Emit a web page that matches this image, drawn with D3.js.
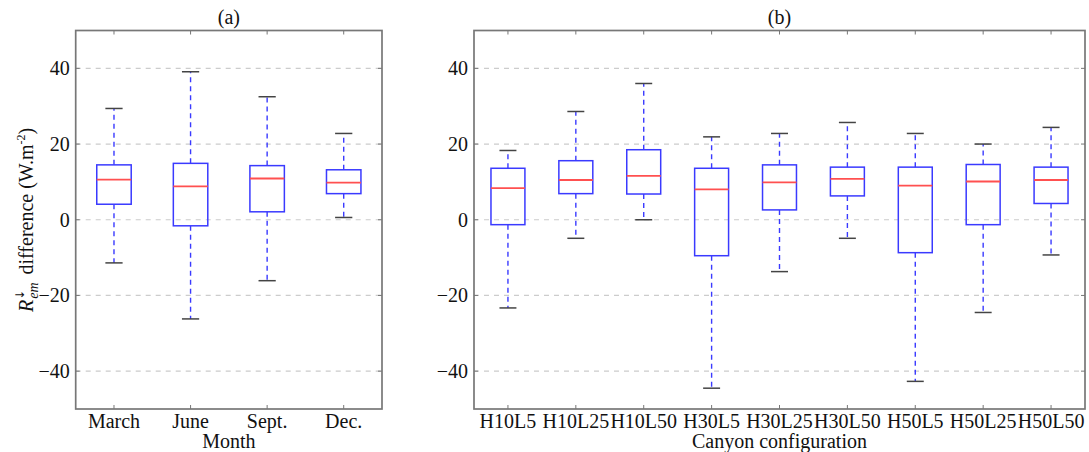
<!DOCTYPE html>
<html>
<head>
<meta charset="utf-8">
<script src="https://cdn.jsdelivr.net/npm/d3@7"></script>
<style>
  body { margin: 0; background: #fff; }
  svg text { font-family: "Liberation Serif", "Times New Roman", serif; fill: #111; }
</style>
</head>
<body>
<svg id="chart" width="1089" height="452"></svg>
<script>
// panel (a): month
const months = ["March", "June", "Sept.", "Dec."];
const monthLow = [-11.4, -26.2, -16.1, 0.6];
const monthQ1 = [4.1, -1.6, 2.1, 6.9];
const monthMed = [10.6, 8.8, 10.9, 9.8];
const monthQ3 = [14.5, 14.9, 14.3, 13.2];
const monthHigh = [29.4, 39.1, 32.5, 22.8];

// panel (b): canyon configuration
const configs = ["H10L5", "H10L25", "H10L50", "H30L5", "H30L25", "H30L50", "H50L5", "H50L25", "H50L50"];
const configLow = [-23.3, -4.9, 0.0, -44.5, -13.7, -4.9, -42.7, -24.5, -9.3];
const configQ1 = [-1.3, 6.9, 6.8, -9.5, 2.6, 6.3, -8.7, -1.3, 4.3];
const configMed = [8.35, 10.5, 11.6, 8.0, 9.9, 10.8, 9.0, 10.1, 10.5];
const configQ3 = [13.6, 15.6, 18.5, 13.6, 14.5, 13.9, 13.9, 14.6, 13.9];
const configHigh = [18.3, 28.6, 36.0, 21.9, 22.8, 25.7, 22.8, 20.0, 24.4];

const yTicks = [-40, -20, 0, 20, 40];

const svg = d3.select("#chart");
const plotTop = 30.5, plotBottom = 409;
const fs = 20;

function panel(left, right, cats, low, q1, med, q3, high, boxW, title, xTitle) {
    const g = svg.append("g");
    const x = d3.scaleLinear().domain([0.5, cats.length + 0.5]).range([left, right]);
    const y = d3.scaleLinear().domain([-50, 50]).range([plotBottom, plotTop]);

    // grid
    g.selectAll("line.grid").data(yTicks).enter().append("line")
        .attr("x1", left).attr("x2", right)
        .attr("y1", d => y(d)).attr("y2", d => y(d))
        .attr("stroke", "#cccccc").attr("stroke-width", 1.2)
        .attr("stroke-dasharray", "5,5");

    const data = cats.map((c, i) => ({ c: c, pos: i + 1, low: low[i], q1: q1[i], med: med[i], q3: q3[i], high: high[i] }));
    const half = (x(1 + boxW / 2) - x(1));
    const capHalf = half / 2;

    const b = g.selectAll("g.box").data(data).enter().append("g");
    // whiskers
    b.append("line")
        .attr("x1", d => x(d.pos)).attr("x2", d => x(d.pos))
        .attr("y1", d => y(d.q3)).attr("y2", d => y(d.high))
        .attr("stroke", "#3a3aff").attr("stroke-width", 1.4).attr("stroke-dasharray", "5,4");
    b.append("line")
        .attr("x1", d => x(d.pos)).attr("x2", d => x(d.pos))
        .attr("y1", d => y(d.q1)).attr("y2", d => y(d.low))
        .attr("stroke", "#3a3aff").attr("stroke-width", 1.4).attr("stroke-dasharray", "5,4");
    // caps
    ["low", "high"].forEach(k => {
        b.append("line")
            .attr("x1", d => x(d.pos) - capHalf).attr("x2", d => x(d.pos) + capHalf)
            .attr("y1", d => y(d[k])).attr("y2", d => y(d[k]))
            .attr("stroke", "#444").attr("stroke-width", 1.5);
    });
    // box
    b.append("rect")
        .attr("x", d => x(d.pos) - half).attr("width", half * 2)
        .attr("y", d => y(d.q3)).attr("height", d => y(d.q1) - y(d.q3))
        .attr("fill", "none").attr("stroke", "#3a3aff").attr("stroke-width", 1.5);
    // median
    b.append("line")
        .attr("x1", d => x(d.pos) - half).attr("x2", d => x(d.pos) + half)
        .attr("y1", d => y(d.med)).attr("y2", d => y(d.med))
        .attr("stroke", "#ff5050").attr("stroke-width", 1.8);

    // inward ticks
    data.forEach(d => {
        g.append("line").attr("x1", x(d.pos)).attr("x2", x(d.pos)).attr("y1", plotTop).attr("y2", plotTop + 4)
            .attr("stroke", "#777").attr("stroke-width", 1);
        g.append("line").attr("x1", x(d.pos)).attr("x2", x(d.pos)).attr("y1", plotBottom).attr("y2", plotBottom - 4)
            .attr("stroke", "#777").attr("stroke-width", 1);
    });
    yTicks.forEach(t => {
        g.append("line").attr("x1", left).attr("x2", left + 4).attr("y1", y(t)).attr("y2", y(t))
            .attr("stroke", "#777").attr("stroke-width", 1);
        g.append("line").attr("x1", right).attr("x2", right - 4).attr("y1", y(t)).attr("y2", y(t))
            .attr("stroke", "#777").attr("stroke-width", 1);
    });

    // frame
    g.append("rect").attr("x", left).attr("y", plotTop)
        .attr("width", right - left).attr("height", plotBottom - plotTop)
        .attr("fill", "none").attr("stroke", "#777").attr("stroke-width", 1.7);

    // tick labels
    g.selectAll("text.yt").data(yTicks).enter().append("text")
        .attr("x", left - 6).attr("y", d => y(d)).attr("dy", "0.34em")
        .attr("text-anchor", "end").attr("font-size", fs)
        .text(d => d < 0 ? "\u2212" + Math.abs(d) : d);
    g.selectAll("text.xt").data(data).enter().append("text")
        .attr("x", d => x(d.pos)).attr("y", 428)
        .attr("text-anchor", "middle").attr("font-size", fs)
        .text(d => d.c);

    g.append("text").attr("x", (left + right) / 2).attr("y", 24)
        .attr("text-anchor", "middle").attr("font-size", fs).text(title);
    g.append("text").attr("x", (left + right) / 2).attr("y", 448)
        .attr("text-anchor", "middle").attr("font-size", fs).text(xTitle);
}

panel(75.7, 382, months, monthLow, monthQ1, monthMed, monthQ3, monthHigh, 0.45, "(a)", "Month");
panel(474, 1085, configs, configLow, configQ1, configMed, configQ3, configHigh, 0.5, "(b)", "Canyon configuration");

// y-axis label
const yl = svg.append("text")
    .attr("transform", "translate(33,220) rotate(-90)")
    .attr("text-anchor", "middle").attr("font-size", fs);
yl.append("tspan").attr("font-style", "italic").text("R");
yl.append("tspan").attr("font-size", 12).attr("font-family", "DejaVu Sans").attr("dy", -9).text("\u2193");
yl.append("tspan").attr("font-size", 14).attr("font-style", "italic").attr("dx", -9).attr("dy", 14).text("em");
yl.append("tspan").attr("dy", -5).attr("dx", 8).text("difference (W.m");
yl.append("tspan").attr("font-size", 12).attr("dy", -8).text("-2");
yl.append("tspan").attr("dy", 8).text(")");
</script>
</body>
</html>
